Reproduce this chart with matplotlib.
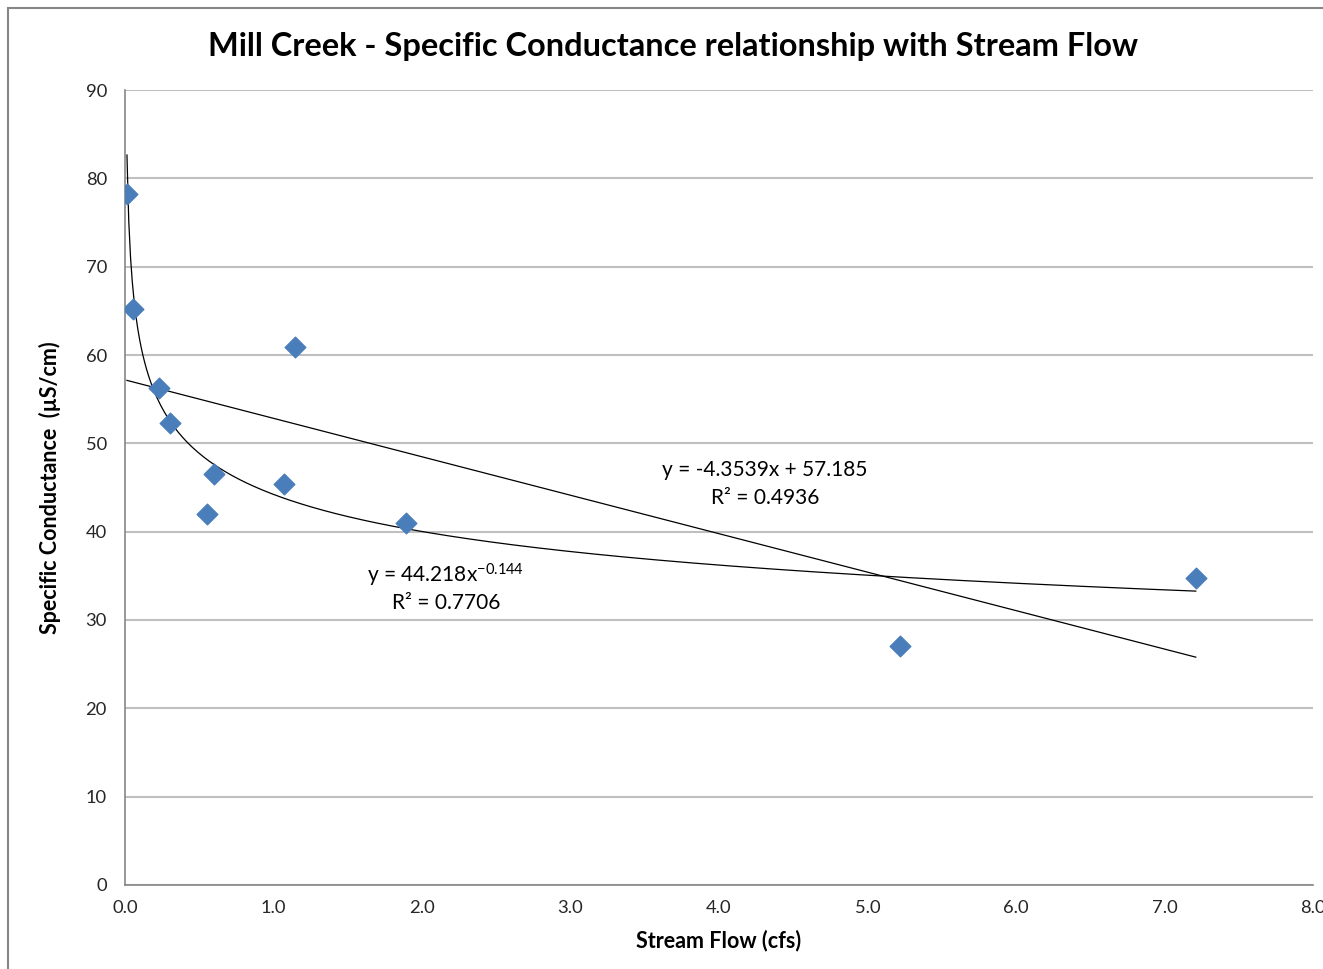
import numpy as np
import matplotlib.pyplot as plt
from matplotlib.patches import Rectangle

plt.rcParams['font.family'] = ['Lato', 'DejaVu Sans']
plt.rcParams['mathtext.fontset'] = 'custom'
plt.rcParams['mathtext.rm'] = 'Lato'
plt.rcParams['mathtext.it'] = 'Lato'

# Stream flow (cfs) and specific conductance (uS/cm) readings
flow = [0.013, 0.054, 0.23, 0.30, 0.60, 0.55, 1.07, 1.145, 1.89, 5.22, 7.21]
conductance = [78.2, 65.2, 56.3, 52.3, 46.5, 42.0, 45.4, 60.9, 41.0, 27.1, 34.8]

# Trendline coefficients
lin_slope, lin_icept, lin_r2 = -4.3539, 57.185, 0.4936
pow_coef, pow_exp, pow_r2 = 44.218, -0.144, 0.7706

fig = plt.figure(figsize=(13.23, 9.69), dpi=100)
ax = fig.add_axes([0.0945, 0.0867, 0.898, 0.8204])

# chart border
fig.patches.append(Rectangle((8 / 1323, -0.1), 1.2, 1 - 8 / 969 + 0.1,
                             transform=fig.transFigure, fill=False,
                             edgecolor='#868686', lw=1.5))

ax.scatter(flow, conductance, marker='D', s=110, color='#4a7ebb',
           edgecolors='#4a7ebb', zorder=3)

xs = np.linspace(min(flow), max(flow), 600)
ax.plot(xs, lin_slope * xs + lin_icept, color='black', lw=0.9, zorder=2)
ax.plot(xs, pow_coef * xs ** pow_exp, color='black', lw=0.9, zorder=2)

ax.text(2.16, 35.1, r'y = 44.218x$^{-0.144}$', ha='center', va='center', fontsize=15)
ax.text(2.16, 31.9, 'R² = 0.7706', ha='center', va='center', fontsize=15)
ax.text(4.31, 47.0, 'y = -4.3539x + 57.185', ha='center', va='center', fontsize=15)
ax.text(4.31, 43.8, 'R² = 0.4936', ha='center', va='center', fontsize=15)

ax.set_xlim(0, 8)
ax.set_ylim(0, 90)
ax.set_xticks(np.arange(0, 9, 1))
ax.set_xticklabels([f'{v:.1f}' for v in np.arange(0, 9, 1)])
ax.set_yticks(np.arange(0, 100, 10))
ax.tick_params(axis='both', length=0, labelsize=13.2, colors='#262626')
ax.tick_params(axis='y', pad=13)
ax.tick_params(axis='x', pad=11)
ax.grid(axis='y', color='#bfbfbf', lw=1.5)
ax.set_axisbelow(True)
for side in ['top', 'right']:
    ax.spines[side].set_visible(False)
for side in ['left', 'bottom']:
    ax.spines[side].set_color('#868686')
    ax.spines[side].set_linewidth(1.2)

ax.set_xlabel('Stream Flow (cfs)', fontsize=15.5, fontweight='bold', labelpad=10)
ax.set_ylabel('Specific Conductance  (µS/cm)', fontsize=15.5, fontweight='bold', labelpad=18)
fig.text(0.509, 0.952, 'Mill Creek - Specific Conductance relationship with Stream Flow',
         ha='center', va='center', fontsize=23.4, fontweight='bold')

fig.savefig('out.png', dpi=100)
